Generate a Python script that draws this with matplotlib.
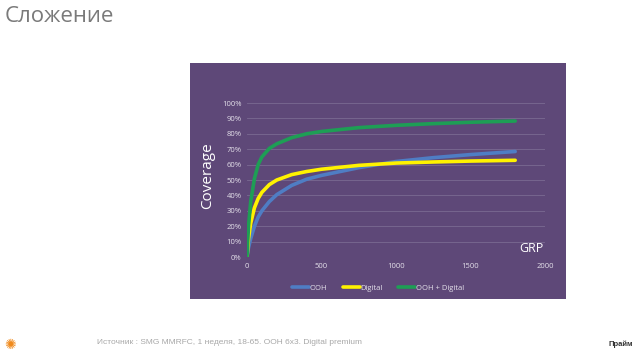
import matplotlib
matplotlib.use("Agg")
import matplotlib.pyplot as plt

# Данные кривых охвата
grp = [0, 10, 25, 50, 75, 100, 150, 200, 300, 400, 500, 750, 1000, 1250, 1500, 1800]
ooh = [0.0, 0.06, 0.12, 0.20, 0.26, 0.30, 0.36, 0.405, 0.465, 0.505, 0.53, 0.58, 0.62, 0.645, 0.665, 0.685]
digital = [0.0, 0.12, 0.22, 0.32, 0.38, 0.42, 0.47, 0.50, 0.535, 0.555, 0.57, 0.595, 0.61, 0.617, 0.623, 0.628]
ooh_digital = [0.0, 0.20, 0.36, 0.51, 0.60, 0.65, 0.705, 0.735, 0.775, 0.80, 0.815, 0.84, 0.855, 0.866, 0.875, 0.883]

x_ticks = [0, 500, 1000, 1500, 2000]
y_ticks = [i / 10 for i in range(11)]

PURPLE = "#5E4878"
BLUE = "#4F7DC4"
YELLOW = "#FFF200"
GREEN = "#1E9E55"
TXT = "#E4E0EA"

W, H = 640, 360
fig = plt.figure(figsize=(6.4, 3.6), dpi=100)
fig.patch.set_facecolor("white")

# Фиолетовая подложка графика
bg = fig.add_axes([190 / W, 1 - 299 / H, 376 / W, 236 / H], zorder=0)
bg.set_facecolor(PURPLE)
bg.set_xticks([])
bg.set_yticks([])
for s in bg.spines.values():
    s.set_visible(False)

ax = fig.add_axes([247 / W, 1 - 257 / H, 298 / W, 154 / H], zorder=1)
ax.set_facecolor("none")
ax.plot(grp, ooh, color=BLUE, lw=2.6, label="OOH", solid_capstyle="round", solid_joinstyle="round")
ax.plot(grp, digital, color=YELLOW, lw=2.6, label="Digital", solid_capstyle="round", solid_joinstyle="round")
ax.plot(grp, ooh_digital, color=GREEN, lw=2.6, label="OOH + Digital", solid_capstyle="round", solid_joinstyle="round")

ax.set_xlim(0, 2000)
ax.set_ylim(0, 1)
ax.set_xticks(x_ticks)
ax.set_yticks(y_ticks)
ax.set_yticklabels([f"{int(v * 100)}%" for v in y_ticks])
ax.grid(axis="y", color="#7A6A92", lw=0.6)
ax.set_axisbelow(True)
for s in ax.spines.values():
    s.set_visible(False)
ax.tick_params(length=0, labelsize=5.5, labelcolor=TXT, pad=4)
for lbl in ax.get_xticklabels() + ax.get_yticklabels():
    lbl.set_fontfamily("Open Sans")

fig.text(208 / W, 1 - 176 / H, "Coverage", rotation=90, color="white",
         fontsize=11, family="Open Sans", ha="center", va="center", zorder=3)
fig.text(543 / W, 1 - 248 / H, "GRP", color="white", fontsize=9,
         family="Open Sans", ha="right", va="center", zorder=3)

leg = fig.legend(loc="center", bbox_to_anchor=(378 / W, 1 - 288 / H), ncol=3,
                 frameon=False, handlelength=2.2, handletextpad=0.1,
                 columnspacing=2.0, prop={"family": "Open Sans", "size": 5.5})
leg.set_zorder(3)
for t in leg.get_texts():
    t.set_color(TXT)

fig.text(5 / W, 1 - 17 / H, "Сложение", color="#7A7A7A", fontsize=16,
         family="Open Sans", ha="left", va="center")
fig.text(97 / W, 1 - 343 / H,
         "Источник : SMG MMRFC, 1 неделя, 18-65. OOH 6x3. Digital premium",
         color="#A8A8A8", fontsize=6, family="Liberation Sans", ha="left", va="center")
fig.text(10 / W, 1 - 345 / H, "✺", color="#F08A1C", fontsize=10,
         family="DejaVu Sans", ha="center", va="center")
fig.text(621 / W, 1 - 344 / H, "Прайм", color="#333333", fontsize=5.5,
         family="Liberation Sans", ha="center", va="center", fontweight="bold")

fig.savefig("out.png", dpi=100, facecolor="white")
